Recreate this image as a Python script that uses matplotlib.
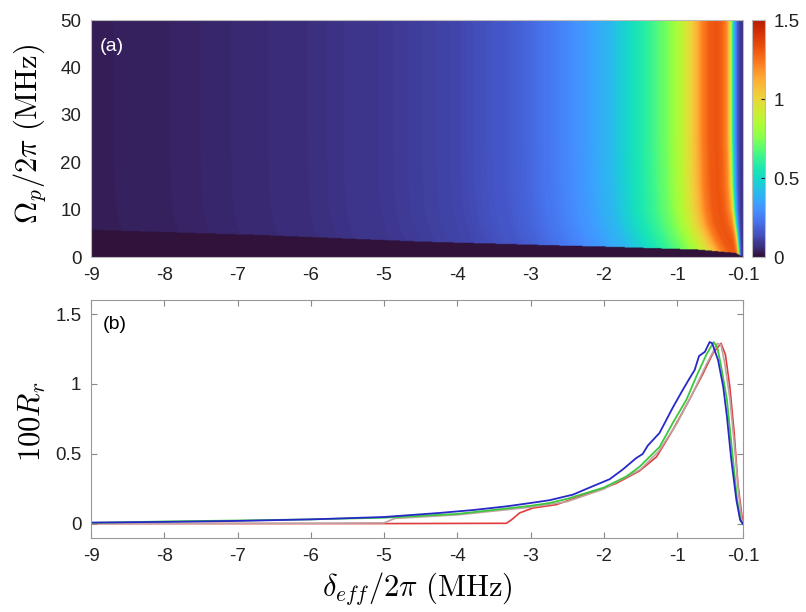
import numpy as np
import matplotlib
matplotlib.use('Agg')
import matplotlib.pyplot as plt
from matplotlib.colors import ListedColormap

plt.rcParams['font.family'] = ['Liberation Sans', 'DejaVu Sans']
plt.rcParams['mathtext.fontset'] = 'cm'

# ---------------- data ----------------
xticks = [-9, -8, -7, -6, -5, -4, -3, -2, -1, -0.1]
xtick_labels = ['-9', '-8', '-7', '-6', '-5', '-4', '-3', '-2', '-1', '-0.1']

# panel (a): reflectance profile along detuning at large Omega_p
prof_x = [-9, -8, -7, -6, -5, -4, -3.4, -3, -2.5, -2.2, -1.9, -1.69, -1.37, -1.14,
          -0.96, -0.82, -0.72, -0.65, -0.55, -0.45, -0.38, -0.32, -0.29, -0.27, -0.25,
          -0.23, -0.20, -0.17, -0.14, -0.1]
prof_v = [0.033, 0.04, 0.054, 0.065, 0.09, 0.12, 0.16, 0.2, 0.28, 0.34, 0.41, 0.49, 0.62,
          0.73, 0.86, 0.99, 1.12, 1.22, 1.30, 1.32, 1.28, 1.20, 1.08, 0.95, 0.72,
          0.50, 0.30, 0.16, 0.10, 0.07]
# shift of the profile at low Omega_p
shift_omega = [0, 1.5, 3, 5, 7, 10, 15, 25, 50]
shift_val = [0.3, 0.25, 0.19, 0.13, 0.08, 0.04, 0.015, 0.0, 0.0]
# upper edge of the dark low-Omega region
wedge_x = [-9, -6.7, -4.5, -2.65, -1.9, -0.7, -0.2, -0.1]
wedge_top = [5.7, 4.6, 3.2, 2.4, 2.1, 1.5, 0.8, 0.0]

# panel (b): four curves 100*R_r
blue_x = [-9, -8, -7, -6, -5, -4.24, -3.78, -3.33, -3.0, -2.74, -2.42, -2.15, -1.92, -1.74,
          -1.56, -1.47, -1.40, -1.24, -1.15, -1.06, -0.92, -0.83, -0.76, -0.70, -0.62,
          -0.555, -0.52, -0.44, -0.37, -0.32, -0.26, -0.19, -0.14, -0.10]
blue_y = [0.010, 0.015, 0.022, 0.033, 0.050, 0.079, 0.100, 0.126, 0.150, 0.170, 0.210, 0.270,
          0.320, 0.390, 0.470, 0.50, 0.56, 0.65, 0.74, 0.83, 0.96, 1.04, 1.10, 1.20, 1.23,
          1.30, 1.29, 1.17, 0.98, 0.77, 0.46, 0.17, 0.03, 0.0]
green_x = [-9, -8, -7, -6, -5, -4, -3, -2.74, -2.5, -2.0, -1.69, -1.51, -1.24, -1.06, -0.87,
           -0.74, -0.60, -0.50, -0.45, -0.40, -0.32, -0.25, -0.18, -0.13, -0.10]
green_y = [0.008, 0.018, 0.025, 0.033, 0.045, 0.072, 0.130, 0.150, 0.18, 0.26, 0.34, 0.41,
           0.55, 0.72, 0.89, 1.05, 1.21, 1.30, 1.26, 1.13, 0.89, 0.53, 0.17, 0.02, 0.0]
gray_x = [-9, -6, -5.0, -4.85, -4, -3, -2.5, -2.0, -1.5, -1.25, -1.0, -0.8, -0.6, -0.45,
          -0.40, -0.35, -0.28, -0.22, -0.16, -0.12, -0.10]
gray_y = [0.003, 0.005, 0.008, 0.04, 0.065, 0.12, 0.16, 0.25, 0.39, 0.52, 0.72, 0.92, 1.14,
          1.29, 1.28, 1.15, 0.90, 0.58, 0.22, 0.04, 0.0]
red_x = [-9, -4.9, -3.33, -3.26, -3.15, -2.97, -2.65, -2.33, -2.06, -1.83, -1.60, -1.51, -1.28,
         -1.06, -0.83, -0.65, -0.51, -0.40, -0.34, -0.28, -0.22, -0.17, -0.12, -0.10]
red_y = [0.003, 0.003, 0.005, 0.03, 0.079, 0.114, 0.138, 0.197, 0.245, 0.29, 0.355, 0.38, 0.48,
         0.67, 0.89, 1.07, 1.22, 1.29, 1.21, 0.98, 0.65, 0.29, 0.08, 0.0]

# ---------------- figure ----------------
W, H = 806, 612
fig = plt.figure(figsize=(W / 100, H / 100), dpi=100)
ax1 = fig.add_axes([91 / W, 1 - 257 / H, 652 / W, 237 / H])
cax = fig.add_axes([752 / W, 1 - 257 / H, 13 / W, 237 / H])
ax2 = fig.add_axes([91 / W, 1 - 538 / H, 652 / W, 238 / H])

cmap = ListedColormap(plt.get_cmap('turbo')(np.linspace(0, 0.92, 256)))

# build heat map grid from the read profile
xg = np.linspace(-9, -0.1, 1400)
og = np.linspace(0, 50, 400)
X, O = np.meshgrid(xg, og)
d = -0.1 - X
sh = np.interp(O, shift_omega, shift_val)
xe = X - sh * np.clip(d / 0.15, 0, 1)
V = np.interp(xe, prof_x, prof_v)
wt = np.interp(X, wedge_x, wedge_top)
V[O < wt] = 0.0

im = ax1.imshow(V, origin='lower', extent=[-9, -0.1, 0, 50], aspect='auto',
                cmap=cmap, vmin=0, vmax=1.5, interpolation='bilinear')
ax1.set_xlim(-9, -0.1)
ax1.set_ylim(0, 50)
ax1.set_xticks(xticks)
ax1.set_xticklabels(xtick_labels)
ax1.set_yticks([0, 10, 20, 30, 40, 50])
ax1.set_yticklabels(['0', '10', '20', '30', '40', '50'])
ax1.tick_params(length=0, labelsize=13.5, colors='#222222', pad=7)
for s in ax1.spines.values():
    s.set_color('#bbbbbb')
    s.set_linewidth(0.8)
ax1.text(0.014, 0.89, '(a)', transform=ax1.transAxes, color='white', fontsize=14,
         ha='left', va='center')

cb = fig.colorbar(im, cax=cax, ticks=[0, 0.5, 1, 1.5])
cb.ax.set_yticklabels(['0', '0.5', '1', '1.5'])
cb.ax.tick_params(direction='in', length=3, labelsize=13.5, colors='#222222', pad=6)
cb.outline.set_edgecolor('#bbbbbb')
cb.outline.set_linewidth(0.8)

# lower panel
ax2.plot(red_x, red_y, color='#e03c3c', lw=1.2)
ax2.plot(gray_x, gray_y, color='#bfa3a3', lw=1.2)
ax2.plot(green_x, green_y, color='#3cc83c', lw=1.3)
ax2.plot(blue_x, blue_y, color='#2828c8', lw=1.3)
ax2.set_xlim(-9, -0.1)
ax2.set_ylim(-0.1, 1.6)
ax2.set_xticks(xticks)
ax2.set_xticklabels(xtick_labels)
ax2.set_yticks([0, 0.5, 1, 1.5])
ax2.set_yticklabels(['0', '0.5', '1', '1.5'])
ax2.tick_params(direction='in', length=4, top=True, right=True, labelsize=13.5,
                color='#888888', labelcolor='#222222', pad=7)
for s in ax2.spines.values():
    s.set_color('#999999')
    s.set_linewidth(0.8)
ax2.text(0.018, 0.895, '(b)', transform=ax2.transAxes, color='black', fontsize=14,
         ha='left', va='center')

# axis labels
fig.text(30 / W, 1 - 134 / H, r'$\Omega_p/2\pi\ \mathrm{(MHz)}$', rotation=90,
         ha='center', va='center', fontsize=22)
fig.text(32 / W, 1 - 422 / H, r'$100R_r$', rotation=90, ha='center', va='center', fontsize=22)
fig.text(417 / W, 1 - 589 / H, r'$\delta_{eff}/2\pi\ \mathrm{(MHz)}$', ha='center',
         va='center', fontsize=22)

fig.savefig('out.png', dpi=100, facecolor='white')
